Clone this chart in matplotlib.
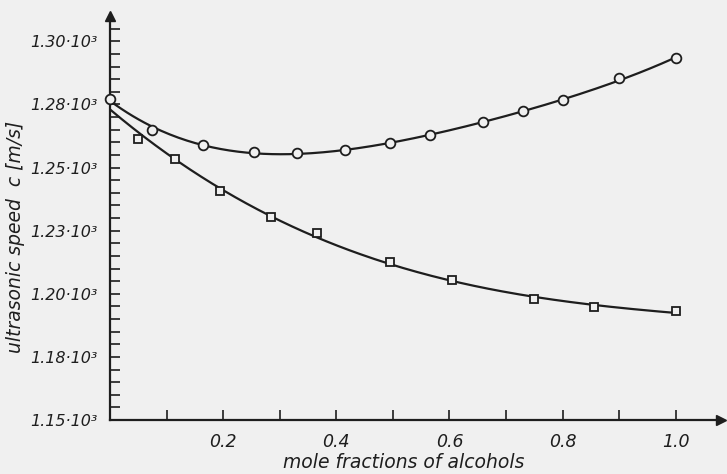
import matplotlib
matplotlib.use("Agg")
import matplotlib.pyplot as plt
import numpy as np

# circles: upper curve
x_circ = [0.0, 0.075, 0.165, 0.255, 0.33, 0.415, 0.495, 0.565, 0.66, 0.73, 0.80, 0.90, 1.0]
c_circ = [1.277, 1.265, 1.259, 1.256, 1.2557, 1.257, 1.2596, 1.2628, 1.2679, 1.2723, 1.2766, 1.2853, 1.2933]

# squares: lower curve (first value is the common start at x=0, no marker)
x_sq = [0.0, 0.05, 0.115, 0.195, 0.285, 0.365, 0.495, 0.605, 0.75, 0.855, 1.0]
c_sq = [1.2755, 1.2612, 1.2533, 1.2406, 1.2303, 1.224, 1.2125, 1.2054, 1.1979, 1.1947, 1.1931]

y_ticks = [1.15, 1.175, 1.20, 1.225, 1.25, 1.275, 1.30]
y_labels = ["1.15·10³", "1.18·10³", "1.20·10³", "1.23·10³", "1.25·10³", "1.28·10³", "1.30·10³"]
x_ticks = [0.2, 0.4, 0.6, 0.8, 1.0]
x_labels = ["0.2", "0.4", "0.6", "0.8", "1.0"]

plt.rcParams['font.family'] = 'DejaVu Sans'
plt.rcParams['font.style'] = 'italic'

bg = '#f0f0f0'
ink = '#1e1e1e'
fig = plt.figure(figsize=(7.27, 4.74), dpi=100, facecolor=bg)
ax = fig.add_axes([0.1513, 0.1139, 0.8405, 0.8523], facecolor=bg)

# smooth fitted curves
xs = np.linspace(0, 1.0, 200)
p1 = np.polyfit(x_circ, c_circ, 4)
p2 = np.polyfit(x_sq, c_sq, 3)
ax.plot(xs, np.polyval(p1, xs), color=ink, lw=1.6)
ax.plot(xs, np.polyval(p2, xs), color=ink, lw=1.6)

ax.plot(x_circ, c_circ, 'o', ms=7, mfc=bg, mec=ink, mew=1.3, clip_on=False, zorder=3)
ax.plot(x_sq[1:], c_sq[1:], 's', ms=6, mfc=bg, mec=ink, mew=1.3, zorder=3)

ax.set_xlim(0, 1.08)
ax.set_ylim(1.15, 1.31)
ax.spines['top'].set_visible(False)
ax.spines['right'].set_visible(False)
for s in ('left', 'bottom'):
    ax.spines[s].set_color(ink)
    ax.spines[s].set_linewidth(1.6)

ax.plot(1, 0, '>', color=ink, ms=7, transform=ax.transAxes, clip_on=False)
ax.plot(0, 1, '^', color=ink, ms=7, transform=ax.transAxes, clip_on=False)

ax.set_xticks(x_ticks)
ax.set_xticklabels(x_labels, fontsize=12.5)
ax.set_xticks([0.1, 0.3, 0.5, 0.7, 0.9], minor=True)
ax.set_yticks(y_ticks)
ax.set_yticklabels(y_labels, fontsize=11.5)
ax.set_yticks(np.arange(1.15, 1.305, 0.005), minor=True)
ax.tick_params(which='both', direction='in', length=7, width=1.2, color=ink, labelcolor=ink)
ax.tick_params(axis='x', pad=9)
ax.tick_params(axis='y', pad=9)

ax.set_xlabel("mole fractions of alcohols", fontsize=13.5, color=ink)
ax.xaxis.set_label_coords(0.48, -0.104)
ax.xaxis.label.set_verticalalignment('center')
ax.set_ylabel("ultrasonic speed  c [m/s]", fontsize=13.5, color=ink)
ax.yaxis.set_label_coords(-0.155, 0.453)
ax.yaxis.label.set_verticalalignment('center')

fig.savefig("out.png", dpi=100, facecolor=bg)
